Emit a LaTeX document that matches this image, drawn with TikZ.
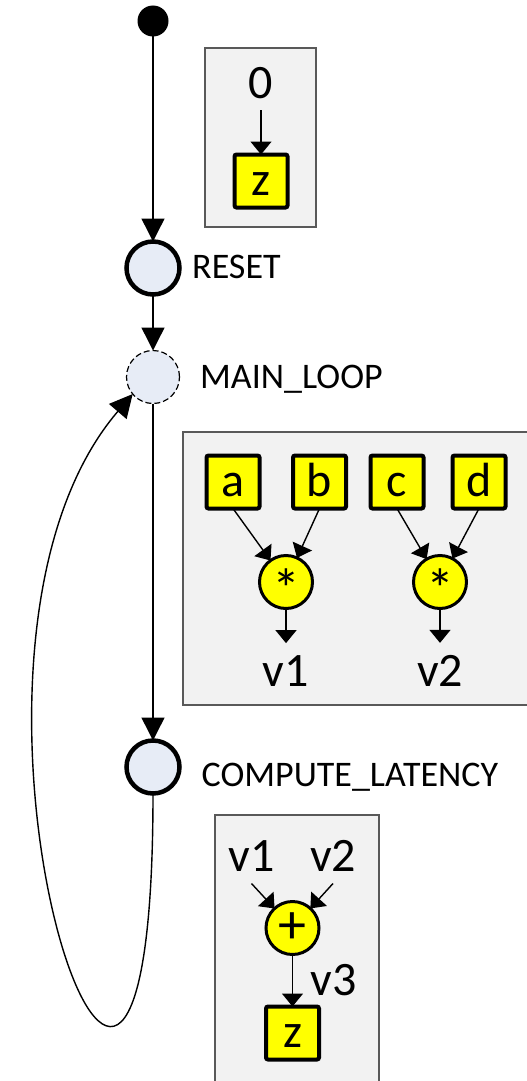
\documentclass[tikz,border=0pt]{standalone}
\usepackage{fontspec}
\setmainfont{Carlito}
\usetikzlibrary{arrows.meta}

\definecolor{statefill}{RGB}{231,236,246}
\definecolor{groupfill}{RGB}{242,242,242}
\definecolor{groupline}{RGB}{89,89,89}
\definecolor{opyellow}{RGB}{255,255,0}

\begin{document}
\begin{tikzpicture}[
            x=1pt, y=-1pt,
            state/.style={
                circle,
                draw,
                line width=4.5pt,
                fill=statefill,
                minimum size=53pt,
                inner sep=0pt,
                outer sep=0pt
            },
            start/.style={
                circle,
                fill=black,
                minimum size=31pt,
                inner sep=0pt,
                outer sep=0pt
            },
            statelabel/.style={
                anchor=base west,
                inner sep=0pt,
                font=\fontsize{36}{42}\selectfont
            },
            group/.style={
                fill=groupfill,
                draw=groupline,
                line width=1.5pt
            },
            var/.style={
                rectangle,
                draw,
                line width=4pt,
                fill=opyellow,
                rounded corners=2pt,
                minimum size=53pt,
                inner sep=0pt,
                outer sep=0pt,
                text height=28pt,
                text depth=0pt,
                font=\fontsize{48}{54}\selectfont
            },
            op/.style={
                circle,
                draw,
                line width=3pt,
                fill=opyellow,
                minimum size=53pt,
                inner sep=0pt,
                outer sep=0pt,
                font=\fontsize{56}{60}\selectfont
            },
            value/.style={
                anchor=base,
                inner xsep=2pt,
                inner ysep=12pt,
                outer sep=0pt,
                font=\fontsize{48}{54}\selectfont
            },
            flow/.style={-{Triangle[length=23pt,width=23pt]}, line width=1.4pt},
            data/.style={-{Triangle[length=13pt,width=21pt]}, line width=1.4pt}
        ]

            \useasboundingbox (0,0) rectangle (527,1081);

            % action boxes
            \draw[group] (205,48) rectangle (316,227);
            \draw[group] (183,432) rectangle (535,705);
            \draw[group] (215,815) rectangle (379,1090);

            % states
            \node[start] (init) at (153,21) {};
            \node[state] (reset) at (153,268) {};
            \node[state, line width=1.2pt, dash pattern=on 6pt off 3pt] (mainloop) at (153,377) {};
            \node[state] (compute) at (153,767) {};

            \node[statelabel] (resetlbl) at (192,278) {RESET};
            \node[statelabel] (mainlooplbl) at (200,388) {MAIN\_LOOP};
            \node[statelabel] (computelbl) at (201.5,786) {COMPUTE\_LATENCY};

            \draw[flow] (init) -- (reset);
            \draw[flow] (reset) -- (mainloop);
            \draw[flow] (mainloop) -- (compute);
            \draw[flow] (compute.south)
                .. controls (153,1400) and (-95,660) .. (mainloop.220);

            % RESET
            \node[value] (zero) at (261,98) {0};
            \node[var] (z1) at (261,181) {z};
            \draw[data] (zero) -- (z1);

            % MAIN_LOOP
            \node[var] (a) at (233,482) {a};
            \node[var] (b) at (319.5,482) {b};
            \node[var] (c) at (397,482) {c};
            \node[var] (d) at (479,482) {d};

            \node[op] (mul1) at (286,582) {\raisebox{-0.47em}[0pt][0pt]{*}};
            \node[op] (mul2) at (440,582) {\raisebox{-0.47em}[0pt][0pt]{*}};

            \node[value] (v1) at (286,686) {v1};
            \node[value] (v2) at (440,686) {v2};

            \draw[data] (a.south) -- (mul1);
            \draw[data] (b.south) -- (mul1);
            \draw[data] (c.south) -- (mul2);
            \draw[data] (d.south) -- (mul2);
            \draw[data] (mul1) -- (v1);
            \draw[data] (mul2) -- (v2);

            % COMPUTE_LATENCY
            \node[value] (v1in) at (251.5,871.5) {v1};
            \node[value] (v2in) at (333,871.5) {v2};
            \node[op] (add) at (292.5,928) {+};
            \node[var] (z2) at (292.5,1033) {z};

            \draw[data] (v1in.south) -- (add);
            \draw[data] (v2in.south) -- (add);
            \draw[data] (add) -- (z2)
                node[value, midway, right=16pt] {v3};

        \end{tikzpicture}
\end{document}
